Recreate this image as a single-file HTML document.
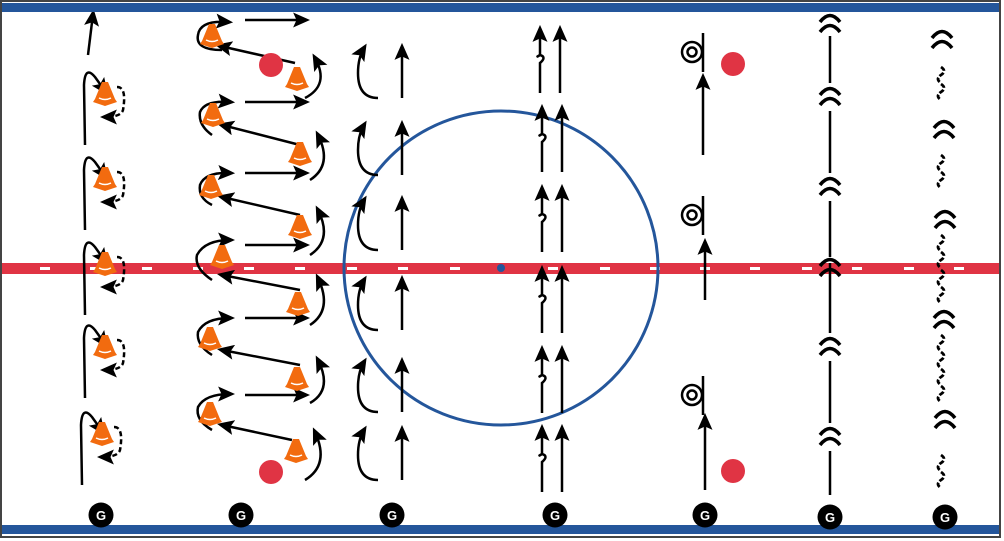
<!DOCTYPE html>
<html><head><meta charset="utf-8"><style>
html,body{margin:0;padding:0;background:#fff}
svg{display:block}
</style></head><body>
<svg width="1004" height="541" viewBox="0 0 1004 541" xmlns="http://www.w3.org/2000/svg">
<defs>
<marker id="ah" viewBox="0 0 10 10" refX="7" refY="5" markerWidth="17" markerHeight="15" orient="auto-start-reverse" markerUnits="userSpaceOnUse" preserveAspectRatio="none">
<path d="M0,0 L10,5 L0,10 L2,5 z" fill="#000"/></marker>
<g id="cone"><path d="M-3,-13 L3,-13 L10,4 L12,7 L0,11 L-12,7 L-10,4 z" fill="#f26b0f"/><path d="M-6,3 Q0,6 6,3" stroke="#fff" stroke-width="1.5" fill="none"/></g>
<g id="dbl"><path d="M-10,-2 Q0,-15 10,-2" stroke="#000" stroke-width="3.5" fill="none"/><path d="M-10,8 Q0,-5 10,8" stroke="#000" stroke-width="3.5" fill="none"/></g>
<g id="sq"><path d="M0,0 q6,4 0,8 q-6,4 0,8" stroke="#000" stroke-width="2.8" fill="none" stroke-dasharray="5 2"/></g>
<g id="gg"><circle r="12.5" fill="#000"/><text x="0" y="5" text-anchor="middle" font-family="Liberation Sans, sans-serif" font-weight="bold" font-size="13" fill="#fff">G</text></g>
<g id="c1"><path d="M-20,50 L-21,-10 Q-20,-30 -10,-18 L0,-4" stroke="#000" stroke-width="2.5" fill="none" marker-end="url(#ah)"/><use href="#cone" x="0" y="0"/><path d="M12,-8 Q22,-8 18,15 Q16,22 0,22" stroke="#000" stroke-width="2.5" fill="none" stroke-dasharray="5 3" marker-end="url(#ah)"/></g>
<g id="c3"><path d="M0,40 Q-20,40 -20,15 Q-20,0 -14,-10" stroke="#000" stroke-width="2.5" fill="none" marker-end="url(#ah)"/><path d="M24,40 L24,-10" stroke="#000" stroke-width="2.5" fill="none" marker-end="url(#ah)"/></g>
<g id="c4"><path d="M0,55 L0,25 q7,-6 0,-8 q-5,3 0,0 L0,-8" stroke="#000" stroke-width="2.5" fill="none" marker-end="url(#ah)"/><path d="M20,55 L20,-8" stroke="#000" stroke-width="2.5" fill="none" marker-end="url(#ah)"/></g>
<g id="pv"><circle cx="-14" cy="0" r="10" stroke="#000" stroke-width="2.5" fill="none"/><circle cx="-14" cy="0" r="4.5" stroke="#000" stroke-width="2.5" fill="none"/><line x1="-3" y1="-19" x2="-3" y2="20" stroke="#000" stroke-width="2.5"/></g>
</defs>
<rect x="1" y="1" width="999" height="536" fill="#fff" stroke="#444" stroke-width="2"/>
<rect x="2" y="263" width="997" height="11" fill="#e03444"/>
<g fill="#fff">
<rect x="40" y="267" width="10" height="3"/><rect x="90" y="267" width="10" height="3"/><rect x="142" y="267" width="10" height="3"/><rect x="193" y="267" width="10" height="3"/><rect x="244" y="267" width="10" height="3"/><rect x="295" y="267" width="10" height="3"/><rect x="347" y="267" width="10" height="3"/><rect x="398" y="267" width="10" height="3"/><rect x="450" y="267" width="10" height="3"/><rect x="548" y="267" width="10" height="3"/><rect x="600" y="267" width="10" height="3"/><rect x="650" y="267" width="10" height="3"/><rect x="700" y="267" width="10" height="3"/><rect x="750" y="267" width="10" height="3"/><rect x="802" y="267" width="10" height="3"/><rect x="852" y="267" width="10" height="3"/><rect x="904" y="267" width="10" height="3"/><rect x="954" y="267" width="10" height="3"/>
</g>
<circle cx="501" cy="268" r="157" fill="none" stroke="#24569b" stroke-width="3"/>
<circle cx="501" cy="268" r="4" fill="#24569b"/>

<!-- col1 -->
<path d="M88,55 L93,14" stroke="#000" stroke-width="2.5" fill="none" marker-end="url(#ah)"/>
<use href="#c1" x="105" y="95"/><use href="#c1" x="105" y="180"/><use href="#c1" x="105" y="265"/><use href="#c1" x="105" y="348"/><use href="#c1" x="102" y="435"/>

<!-- col2 -->
<g stroke="#000" stroke-width="2.5" fill="none" marker-end="url(#ah)">
<path d="M245,20 L305,20"/><path d="M245,102 L305,102"/><path d="M245,173 L305,173"/><path d="M245,245 L305,245"/><path d="M245,318 L305,318"/><path d="M245,395 L305,395"/>
<path d="M295,63 L220,46"/><path d="M300,145 L222,125"/><path d="M300,215 L222,197"/><path d="M300,290 L222,275"/><path d="M300,365 L222,350"/><path d="M292,440 L222,425"/>
<path d="M222,50 Q195,50 198,35 Q200,20 228,22"/><path d="M212,135 Q198,125 200,112 Q205,100 230,102"/><path d="M212,205 Q198,198 200,185 Q205,172 230,173"/><path d="M212,280 Q194,268 197,255 Q205,240 230,240"/><path d="M212,355 Q196,345 198,332 Q205,318 230,318"/><path d="M212,430 Q195,420 198,407 Q205,394 230,394"/>
<path d="M305,98 Q330,85 315,58"/><path d="M310,180 Q333,165 318,135"/><path d="M310,255 Q333,240 318,210"/><path d="M310,325 Q333,310 318,278"/><path d="M310,403 Q333,390 318,360"/><path d="M305,480 Q330,465 315,432"/>
</g>
<use href="#cone" x="212" y="37"/><use href="#cone" x="297" y="80"/><use href="#cone" x="213" y="116"/><use href="#cone" x="300" y="155"/><use href="#cone" x="211" y="188"/><use href="#cone" x="300" y="228"/><use href="#cone" x="222" y="258"/><use href="#cone" x="298" y="305"/><use href="#cone" x="210" y="340"/><use href="#cone" x="297" y="380"/><use href="#cone" x="210" y="415"/><use href="#cone" x="296" y="452"/>
<circle cx="271" cy="65" r="12" fill="#e03444"/><circle cx="271" cy="472" r="12" fill="#e03444"/>

<!-- col3 -->
<use href="#c3" x="378" y="58"/><use href="#c3" x="378" y="135"/><use href="#c3" x="378" y="210"/><use href="#c3" x="378" y="290"/><use href="#c3" x="378" y="372"/><use href="#c3" x="378" y="440"/>

<!-- col4 -->
<use href="#c4" x="540" y="38"/><use href="#c4" x="542" y="117"/><use href="#c4" x="542" y="197"/><use href="#c4" x="542" y="278"/><use href="#c4" x="542" y="358"/><use href="#c4" x="542" y="437"/>

<!-- col5 -->
<use href="#pv" x="706" y="52"/><use href="#pv" x="706" y="215"/><use href="#pv" x="706" y="395"/>
<g stroke="#000" stroke-width="2.5" fill="none" marker-end="url(#ah)">
<path d="M703,155 L703,78"/><path d="M705,300 L705,243"/><path d="M705,490 L705,418"/>
</g>
<circle cx="733" cy="64" r="12" fill="#e03444"/><circle cx="733" cy="471" r="12" fill="#e03444"/>

<!-- col6 -->
<line x1="830" y1="25" x2="830" y2="495" stroke="#000" stroke-width="2.5"/>
<g fill="#fff"><rect x="818" y="8" width="24" height="28"/><rect x="818" y="83" width="24" height="28"/><rect x="818" y="173" width="24" height="28"/><rect x="818" y="257" width="24" height="6"/><rect x="818" y="333" width="24" height="28"/><rect x="818" y="423" width="24" height="28"/></g>
<use href="#dbl" x="830" y="24"/><use href="#dbl" x="830" y="97"/><use href="#dbl" x="830" y="187"/><use href="#dbl" x="830" y="268"/><use href="#dbl" x="830" y="347"/><use href="#dbl" x="830" y="437"/>

<!-- col7 -->
<use href="#dbl" x="942" y="40"/><use href="#dbl" x="944" y="130"/><use href="#dbl" x="945" y="220"/><use href="#dbl" x="944" y="320"/><use href="#dbl" x="945" y="420"/>
<use href="#sq" x="941" y="67"/><use href="#sq" x="941" y="84"/><use href="#sq" x="941" y="155"/><use href="#sq" x="941" y="172"/><use href="#sq" x="941" y="235"/><use href="#sq" x="941" y="252"/><use href="#sq" x="941" y="270"/><use href="#sq" x="941" y="287"/><use href="#sq" x="941" y="335"/><use href="#sq" x="941" y="352"/><use href="#sq" x="941" y="369"/><use href="#sq" x="941" y="386"/><use href="#sq" x="941" y="455"/><use href="#sq" x="941" y="472"/>

<rect x="2" y="3" width="997" height="9" fill="#24569b"/>
<rect x="2" y="525" width="997" height="9" fill="#24569b"/>

<!-- goalies -->
<use href="#gg" x="101" y="515"/><use href="#gg" x="241" y="515"/><use href="#gg" x="392" y="515"/><use href="#gg" x="555" y="515"/><use href="#gg" x="705" y="515"/><use href="#gg" x="830" y="517"/><use href="#gg" x="945" y="517"/>
</svg>
</body></html>
